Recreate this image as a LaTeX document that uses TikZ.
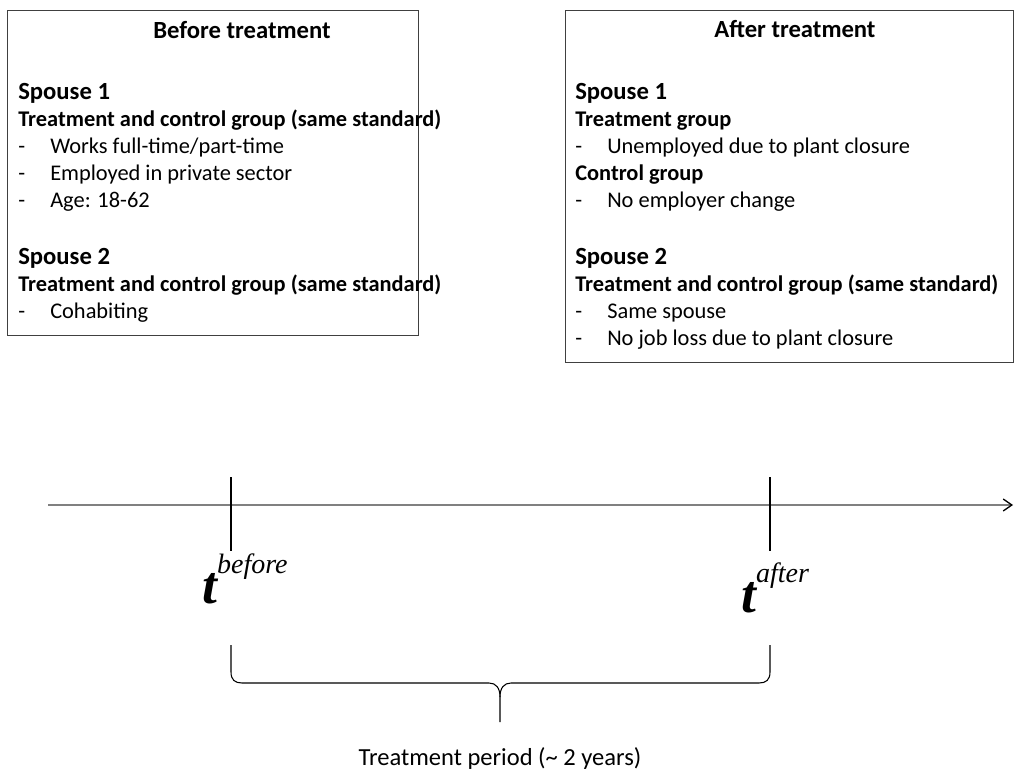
\documentclass[tikz,border=0pt]{standalone}
\usepackage{fontspec}
\setmainfont{Carlito}
\newfontfamily\timesit{Liberation Serif Italic}
\newfontfamily\timesbi{Liberation Serif Bold Italic}
\usetikzlibrary{arrows.meta}

\newcommand\spousehead[1]{{\fontsize{18.5}{20.25}\selectfont\bfseries #1}}
\newcommand\dashitem[1]{\makebox[24pt][l]{-}#1}
\newcommand\tlabel[1]{{\timesbi\fontsize{40}{40}\selectfont t}\raisebox{22.5pt}{\timesit\fontsize{21}{21}\selectfont #1}}

\begin{document}
\begin{tikzpicture}[x=0.75pt, y=-0.75pt,
    frame/.style={draw=black!75, line width=0.9pt, inner sep=0pt, anchor=north west},
    boxtext/.style={anchor=base west, inner sep=0pt, font=\fontsize{16.8}{20.25}\selectfont},
    boxtitle/.style={anchor=base, inner sep=0pt, font=\fontsize{18.5}{20}\selectfont\bfseries},
    axis/.style={draw=black!50, line width=1.5pt, -{Straight Barb[length=6.5pt, width=9pt, line width=1pt, color=black]}},
    tick/.style={draw=black, line width=1.5pt},
    brace/.style={draw=black, line width=0.8pt}]
  \useasboundingbox (0,0) rectangle (1014,773);

  % Before treatment
  \node (beforebox) [frame, minimum width=308.25pt, minimum height=243.75pt] at (7,10) {};
  \node (beforetitle) [boxtitle] at (242,39) {Before treatment};
  \node (beforetext) [boxtext] at (18,100) {\parbox[t]{400pt}{\raggedright
      \spousehead{Spouse 1}\\
      \textbf{Treatment and control group (same standard)}\\
      \dashitem{Works full-time/part-time}\\
      \dashitem{Employed in private sector}\\
      \dashitem{Age: 18-62}\\[22.5pt]
      \spousehead{Spouse 2}\\
      \textbf{Treatment and control group (same standard)}\\
      \dashitem{Cohabiting}}};

  % After treatment
  \node (afterbox) [frame, minimum width=336pt, minimum height=264pt] at (565,10) {};
  \node (aftertitle) [boxtitle] at (795,38) {After treatment};
  \node (aftertext) [boxtext] at (575,100) {\parbox[t]{400pt}{\raggedright
      \spousehead{Spouse 1}\\
      \textbf{Treatment group}\\
      \dashitem{Unemployed due to plant closure}\\
      \textbf{Control group}\\
      \dashitem{No employer change}\\[22.5pt]
      \spousehead{Spouse 2}\\
      \textbf{Treatment and control group (same standard)}\\
      \dashitem{Same spouse}\\
      \dashitem{No job loss due to plant closure}}};

  % Time axis
  \coordinate (axisstart) at (48,505);
  \coordinate (axisend) at (1013,505);
  \draw[axis] (axisstart) -- (axisend);

  % Points in time
  \foreach \x/\ty/\lbl in {231/603/before, 770/612/after} {
      \draw[tick] (\x,477) -- (\x,551);
      \node (t\lbl) [anchor=base west, inner sep=0pt] at ({\x-29},\ty) {\tlabel{\lbl}};
    }

  % Treatment period
  \draw[brace] (231,645) -- (231,672) .. controls (231,680) and (235,683) .. (242,683)
    -- (489,683) .. controls (496,683) and (500,688) .. (500,697) -- (500,722);
  \draw[brace] (770,645) -- (770,672) .. controls (770,680) and (766,683) .. (759,683)
    -- (511,683) .. controls (504,683) and (500,688) .. (500,697);
  \node (period) [anchor=base, inner sep=0pt, font=\fontsize{18.4}{20}\selectfont] at (500,765)
    {Treatment period (\textasciitilde{} 2 years)};
\end{tikzpicture}
\end{document}
